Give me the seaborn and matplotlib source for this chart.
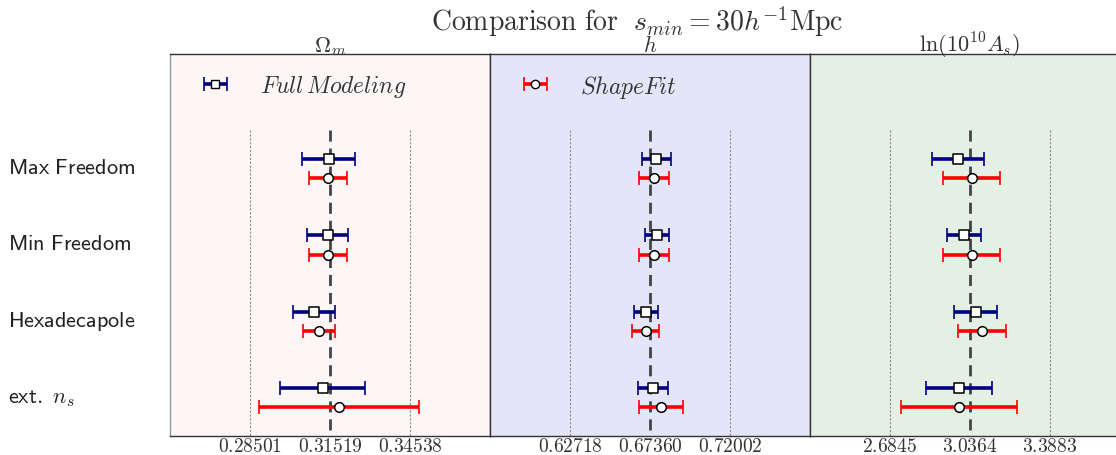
import numpy as np
import pandas as pd
import matplotlib
matplotlib.use("Agg")
import matplotlib.pyplot as plt
from matplotlib.transforms import ScaledTranslation
import seaborn as sns

# ---- data -------------------------------------------------------------
configs = ["Max Freedom", "Min Freedom", "Hexadecapole", "ext. n_s"]
row_labels = [r"$\mathsf{Max\ Freedom}$", r"$\mathsf{Min\ Freedom}$",
              r"$\mathsf{Hexadecapole}$", r"$\mathsf{ext.}\ n_s$"]

params = ["omega_m", "h", "lnAs"]
param_titles = [r"$\Omega_m$", r"$h$", r"$\ln(10^{10}A_s)$"]
truth = [0.31519, 0.67360, 3.0364]
sigma_ref = [0.03018, 0.04642, 0.3519]
tick_labels = [["0.28501", "0.31519", "0.34538"],
               ["0.62718", "0.67360", "0.72002"],
               ["2.6845", "3.0364", "3.3883"]]

# Full Modeling: best fit and 1-sigma error per configuration
fm_omega_m = [0.31470, 0.31432, 0.30915, 0.31244]
fm_omega_m_err = [0.0099, 0.0078, 0.0081, 0.0160]
fm_h = [0.67726, 0.67766, 0.67128, 0.67534]
fm_h_err = [0.0083, 0.0071, 0.0071, 0.0087]
fm_lnAs = [2.985, 3.010, 3.061, 2.988]
fm_lnAs_err = [0.114, 0.074, 0.095, 0.145]

# ShapeFit: best fit and 1-sigma error per configuration
sf_omega_m = [0.31432, 0.31432, 0.31115, 0.31859]
sf_omega_m_err = [0.0072, 0.0072, 0.0060, 0.0302]
sf_h = [0.67592, 0.67592, 0.67110, 0.67998]
sf_h_err = [0.0089, 0.0089, 0.0077, 0.0130]
sf_lnAs = [3.0435, 3.0435, 3.089, 2.989]
sf_lnAs_err = [0.125, 0.125, 0.106, 0.256]

fm_vals = [fm_omega_m, fm_h, fm_lnAs]
fm_errs = [fm_omega_m_err, fm_h_err, fm_lnAs_err]
sf_vals = [sf_omega_m, sf_h, sf_lnAs]
sf_errs = [sf_omega_m_err, sf_h_err, sf_lnAs_err]

panel_colors = ["#fdf6f6", "#e5e5fa", "#e5f0e5"]

# ---- style ------------------------------------------------------------
sns.set_theme(style="white")
plt.rcParams["mathtext.fontset"] = "cm"
plt.rcParams["font.family"] = ["DejaVu Serif"]
plt.rcParams["axes.unicode_minus"] = False

W, H = 1116, 456
fig = plt.figure(figsize=(W / 100, H / 100), dpi=100)

ax_w, ax_h = 320 / W, 382 / H
ax_b = 1 - 437 / H
lefts = [170 / W, 490 / W, 810 / W]

rows = np.arange(len(configs))
offset = 0.125

records = []
for p, name in enumerate(params):
    for i, c in enumerate(configs):
        records.append(dict(param=name, config=c, method="Full Modeling",
                            y=rows[i] - offset, value=fm_vals[p][i], err=fm_errs[p][i]))
        records.append(dict(param=name, config=c, method="ShapeFit",
                            y=rows[i] + offset, value=sf_vals[p][i], err=sf_errs[p][i]))
df = pd.DataFrame(records)

styles = {
    "Full Modeling": dict(color="#000080", marker="s", label=r"$Full\,Modeling$"),
    "ShapeFit": dict(color="#ff0000", marker="o", label=r"$ShapeFit$"),
}

axes = []
for p, name in enumerate(params):
    ax = fig.add_axes([lefts[p], ax_b, ax_w, ax_h])
    axes.append(ax)
    ax.set_facecolor(panel_colors[p])
    c0, s0 = truth[p], sigma_ref[p]
    ax.set_xlim(c0 - 2 * s0, c0 + 2 * s0)
    ax.set_ylim(3.5, -1.5)

    # reference lines
    ax.vlines(c0, -0.5, 3.5, colors="#444444", linestyles=(0, (4, 2.5)),
              linewidth=2.0, zorder=1)
    for xv in (c0 - s0, c0 + s0):
        ax.vlines(xv, -0.5, 3.5, colors="#888888", linestyles=(0, (2, 1.5)),
                  linewidth=0.8, zorder=1)

    sub = df[df.param == name]
    for method, st in styles.items():
        d = sub[sub.method == method]
        ax.errorbar(d["value"], d["y"], xerr=d["err"], fmt="none",
                    ecolor=st["color"], elinewidth=2.6, capsize=5,
                    capthick=1.2, zorder=3)
        sns.scatterplot(x=d["value"], y=d["y"], ax=ax, marker=st["marker"],
                        s=48, color="white", edgecolor="black", linewidth=1.1,
                        zorder=4, legend=False)

    ax.set_xticks([c0 - s0, c0, c0 + s0])
    ax.set_xticklabels(["$" + t + "$" for t in tick_labels[p]], fontsize=14)
    ax.tick_params(axis="x", length=0, pad=1, colors="#333333")
    ax.set_xlabel("")
    ax.set_ylabel("")
    ax.set_title(param_titles[p], fontsize=16, pad=2, color="#333333")
    for sp in ax.spines.values():
        sp.set_color("#333333")
        sp.set_linewidth(1.0)

    if p == 0:
        ax.set_yticks(rows)
        ax.set_yticklabels(row_labels, fontsize=16, ha="left", color="#222222")
        ax.tick_params(axis="y", length=0, pad=160 * 0.72)
        shift = ScaledTranslation(-2 / 100, 4 / 100, fig.dpi_scale_trans)
        for lab in ax.get_yticklabels():
            lab.set_transform(lab.get_transform() + shift)
        ax.spines["left"].set_color("#999999")
    else:
        ax.set_yticks([])

# legends: one method per panel
for ax, method in zip(axes[:2], ["Full Modeling", "ShapeFit"]):
    st = styles[method]
    h = ax.errorbar([np.nan], [np.nan], xerr=[1], fmt=st["marker"], color=st["color"],
                    mfc="white", mec="black", ms=6, elinewidth=2.6, capsize=5,
                    capthick=1.2)
    ax.legend([h], [st["label"]], loc="center left", bbox_to_anchor=(0.103, 0.916),
              frameon=False, fontsize=17, handlelength=1.06, handletextpad=1.35,
              borderpad=0, borderaxespad=0, labelcolor="#333333")

fig.text(637 / W, 1 - 22 / H,
         r"$\mathrm{Comparison\ for}\ \ s_{min} = 30h^{-1}\mathrm{Mpc}$",
         ha="center", va="center", fontsize=20, color="#333333")

fig.savefig("out.png", dpi=100)
